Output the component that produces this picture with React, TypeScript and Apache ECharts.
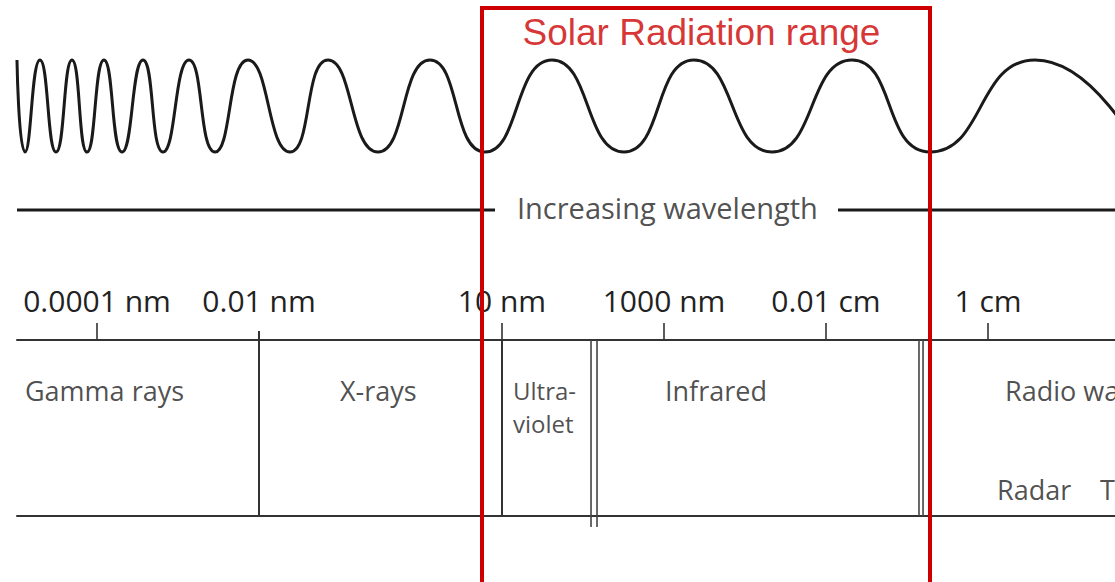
import React, { useEffect, useRef } from "react";
import * as echarts from "echarts";

// Horizontal values are log10(wavelength / m)
const tickValues = [-13, -11, -8, -6, -4, -2];
const tickLabels = ["0.0001 nm", "0.01 nm", "10 nm", "1000 nm", "0.01 cm", "1 cm"];
const tickMarkValues = [-13, -8, -6, -4, -2];

const bandNames = ["Gamma rays", "X-rays", "Ultra-\nviolet", "Infrared", "Radio waves"];
const bandLabelStarts = [-13.889, -10.0, -7.864, -5.988, -1.79];
const subBandNames = ["Radar", "TV"];
const subBandStarts = [-1.889, -0.617];

const singleDividers = [-11, -8];
const doubleDividers = [
  [-6.901, -6.827],
  [-2.852, -2.802],
];

// wave crests (1) and troughs (-1)
const waveX = [
  -13.988, -13.889, -13.704, -13.506, -13.309, -13.123, -12.914, -12.691, -12.432,
  -12.185, -11.864, -11.543, -11.136, -10.617, -10.148, -9.531, -8.889, -8.21,
  -7.383, -6.494, -5.63, -4.667, -3.679, -2.716, -1.42, -0.123,
];
const waveY = [
  1, -1, 1, -1, 1, -1, 1, -1, 1, -1, 1, -1, 1, -1, 1, -1, 1, -1, 1, -1, 1, -1, 1, -1, 1, -1,
];

const solarRange = [-8.247, -2.716];
const solarTitle = "Solar Radiation range";
const solarTitleCenter = -5.537;
const arrowText = "Increasing wavelength";
const arrowTextStart = -7.815;
const arrowGap = [-8.086, -3.852];

const X_MIN = -13 - 80 / 81;
const X_MAX = -13 + 1018 / 81;

export default function App() {
  const ref = useRef<HTMLDivElement>(null);

  useEffect(() => {
    if (!ref.current) return;
    const chart = echarts.init(ref.current, null, { renderer: "svg" });

    // layout rows (pixel rows of the diagram)
    const ROW = {
      title: 32,
      rectTop: 8,
      rectBottom: 600,
      arrow: 210,
      arrowText: 207,
      axis: 340,
      stubTop: 331,
      bands: 390,
      bandsTwoLine: 407,
      subBands: 489,
      bottom: 516,
      uvIrBottom: 527,
    };

    const ink = "#222222";
    const font = "Open Sans";

    const seg = (pts: number[][], color: string, width: number, z = 3) => ({
      type: "line",
      xAxisIndex: 1,
      yAxisIndex: 1,
      data: pts,
      symbol: "none",
      clip: false,
      silent: true,
      z,
      lineStyle: { color, width, cap: "butt", join: "miter" },
    });

    const series: any[] = [];

    // wave
    series.push({
      type: "line",
      xAxisIndex: 0,
      yAxisIndex: 0,
      data: waveX.map((x, i) => [x, waveY[i]]),
      smooth: 0.55,
      symbol: "none",
      clip: false,
      silent: true,
      lineStyle: { color: "#1a1a1a", width: 3 },
      z: 3,
    });

    // increasing wavelength line
    series.push(seg([[X_MIN, ROW.arrow], [arrowGap[0], ROW.arrow]], "#1a1a1a", 3));
    series.push(seg([[arrowGap[1], ROW.arrow], [X_MAX, ROW.arrow]], "#1a1a1a", 3));

    // single dividers
    singleDividers.forEach((v, i) => {
      series.push(seg([[v, i === 0 ? ROW.stubTop : ROW.axis], [v, ROW.bottom]], "#333", 2));
    });
    // double dividers
    doubleDividers.forEach((pair, i) => {
      const yb = i === 0 ? ROW.uvIrBottom : ROW.bottom;
      pair.forEach((v) => series.push(seg([[v, ROW.axis], [v, yb]], "#444", 1.6)));
    });

    // solar radiation range box
    series.push(
      seg(
        [
          [solarRange[0], ROW.rectBottom],
          [solarRange[0], ROW.rectTop],
          [solarRange[1], ROW.rectTop],
          [solarRange[1], ROW.rectBottom],
        ],
        "#cc0000",
        4,
        10
      )
    );

    // texts
    const textItems: any[] = [];
    bandNames.forEach((n, i) => {
      const twoLine = n.includes("\n");
      textItems.push({
        name: n,
        value: [bandLabelStarts[i], twoLine ? ROW.bandsTwoLine : ROW.bands],
        label: twoLine ? { fontSize: 24, lineHeight: 33 } : { fontSize: 27 },
      });
    });
    subBandNames.forEach((n, i) => {
      textItems.push({ name: n, value: [subBandStarts[i], ROW.subBands], label: { fontSize: 27 } });
    });
    textItems.push({
      name: arrowText,
      value: [arrowTextStart, ROW.arrowText],
      label: { fontSize: 29 },
    });
    series.push({
      type: "scatter",
      xAxisIndex: 1,
      yAxisIndex: 1,
      symbolSize: 0,
      silent: true,
      clip: false,
      z: 5,
      data: textItems,
      label: {
        show: true,
        position: "right",
        distance: 0,
        formatter: "{b}",
        color: ink,
        fontFamily: font,
        fontSize: 27,
      },
    });
    series.push({
      type: "scatter",
      xAxisIndex: 1,
      yAxisIndex: 1,
      symbolSize: 0,
      silent: true,
      clip: false,
      z: 11,
      data: [{ name: solarTitle, value: [solarTitleCenter, ROW.title] }],
      label: {
        show: true,
        position: "inside",
        formatter: "{b}",
        color: "#cc0000",
        fontFamily: "Liberation Sans",
        fontSize: 37,
        align: "center",
        verticalAlign: "middle",
      },
    });

    const hiddenX = { type: "value", min: X_MIN, max: X_MAX, show: false };

    chart.setOption({
      animation: false,
      backgroundColor: "#ffffff",
      grid: [
        { left: 17, right: 0, top: 60, height: 92 },
        { left: 17, right: 0, top: 0, bottom: 0 },
        { left: 17, right: 0, top: ROW.axis, bottom: 582 - ROW.bottom },
      ],
      xAxis: [
        { ...hiddenX, gridIndex: 0 },
        { ...hiddenX, gridIndex: 1 },
        {
          type: "value",
          gridIndex: 2,
          min: X_MIN,
          max: X_MAX,
          position: "top",
          axisLine: { show: true, onZero: false, lineStyle: { color: "#333", width: 2 } },
          axisTick: {
            show: true,
            customValues: tickMarkValues,
            length: 17,
            inside: false,
            lineStyle: { color: "#333", width: 1.6 },
          },
          axisLabel: {
            show: true,
            customValues: tickValues,
            formatter: (v: number) => {
              const idx = tickValues.findIndex((t) => Math.abs(t - v) < 1e-9);
              return idx >= 0 ? tickLabels[idx] : "";
            },
            margin: 40,
            verticalAlign: "middle",
            fontSize: 30,
            fontFamily: font,
            color: ink,
          },
          splitLine: { show: false },
        },
        {
          type: "value",
          gridIndex: 2,
          min: X_MIN,
          max: X_MAX,
          position: "bottom",
          axisLine: { show: true, onZero: false, lineStyle: { color: "#333", width: 2 } },
          axisTick: { show: false },
          axisLabel: { show: false },
          splitLine: { show: false },
        },
      ],
      yAxis: [
        { type: "value", gridIndex: 0, min: -1, max: 1, show: false },
        { type: "value", gridIndex: 1, min: 0, max: 582, inverse: true, show: false },
        { type: "value", gridIndex: 2, min: 0, max: 1, show: false },
      ],
      series,
    });

    return () => chart.dispose();
  }, []);

  return (
    <div
      ref={ref}
      style={{ position: "fixed", left: 0, top: 0, width: 1115, height: 582, background: "#fff" }}
    />
  );
}
